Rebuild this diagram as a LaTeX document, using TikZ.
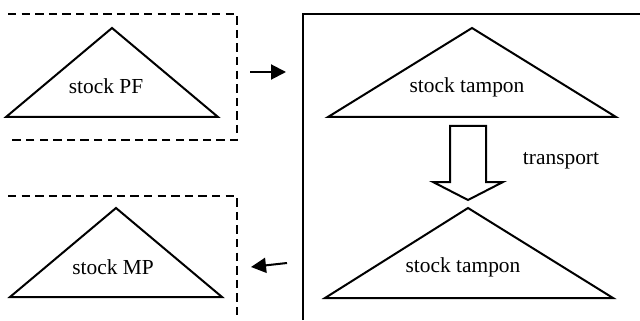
\documentclass[tikz,border=0pt]{standalone}
\usepackage{fontspec}
\setmainfont{Liberation Serif}
\usetikzlibrary{arrows.meta}
\tikzset{
  stocktri/.style={line width=1pt, line join=miter},
  stockbox/.style={line width=1pt, dash pattern=on 4.2pt off 2.6pt},
  flowarrow/.style={line width=1pt, -{Triangle[length=7.5pt, width=7.5pt]}},
  lbl/.style={font=\fontsize{10.7}{12}\selectfont, inner sep=0pt}
}
\begin{document}
\begin{tikzpicture}[x=0.5pt, y=-0.5pt]
    \useasboundingbox (0,0) rectangle (640,320);

    % dashed boxes on the left
    \draw[stockbox] (8,14) -- (237,14) -- (237,140) -- (8,140);
    \draw[stockbox] (8,196) -- (237,196) -- (237,320);

    % solid box on the right
    \draw[line width=1pt] (303,320) -- (303,14) -- (640,14);

    % triangles
    \draw[stocktri] (112,28) -- (218,117) -- (6,117) -- cycle;
    \draw[stocktri] (116,208) -- (222,297) -- (10,297) -- cycle;
    \draw[stocktri] (472,28) -- (616,117) -- (328,117) -- cycle;
    \draw[stocktri] (468,208) -- (613,298) -- (325,298) -- cycle;

    \node[lbl] (pf) at (106,86) {stock PF};
    \node[lbl] (mp) at (113,267) {stock MP};
    \node[lbl] (tampon1) at (467,87) {stock tampon};
    \node[lbl] (tampon2) at (463,267) {stock tampon};
    \node[lbl] (transport) at (561,161) {transport};

    % block arrow
    \draw[line width=1pt] (450,126) -- (486,126) -- (486,182) -- (503,182)
        -- (468,200) -- (433,182) -- (450,182) -- cycle;

    % flow arrows
    \coordinate (outA) at (250,72);
    \coordinate (inA) at (286,72);
    \coordinate (outB) at (287,263);
    \coordinate (inB) at (251,267);
    \draw[flowarrow] (outA) -- (inA);
    \draw[flowarrow] (outB) -- (inB);
\end{tikzpicture}
\end{document}
